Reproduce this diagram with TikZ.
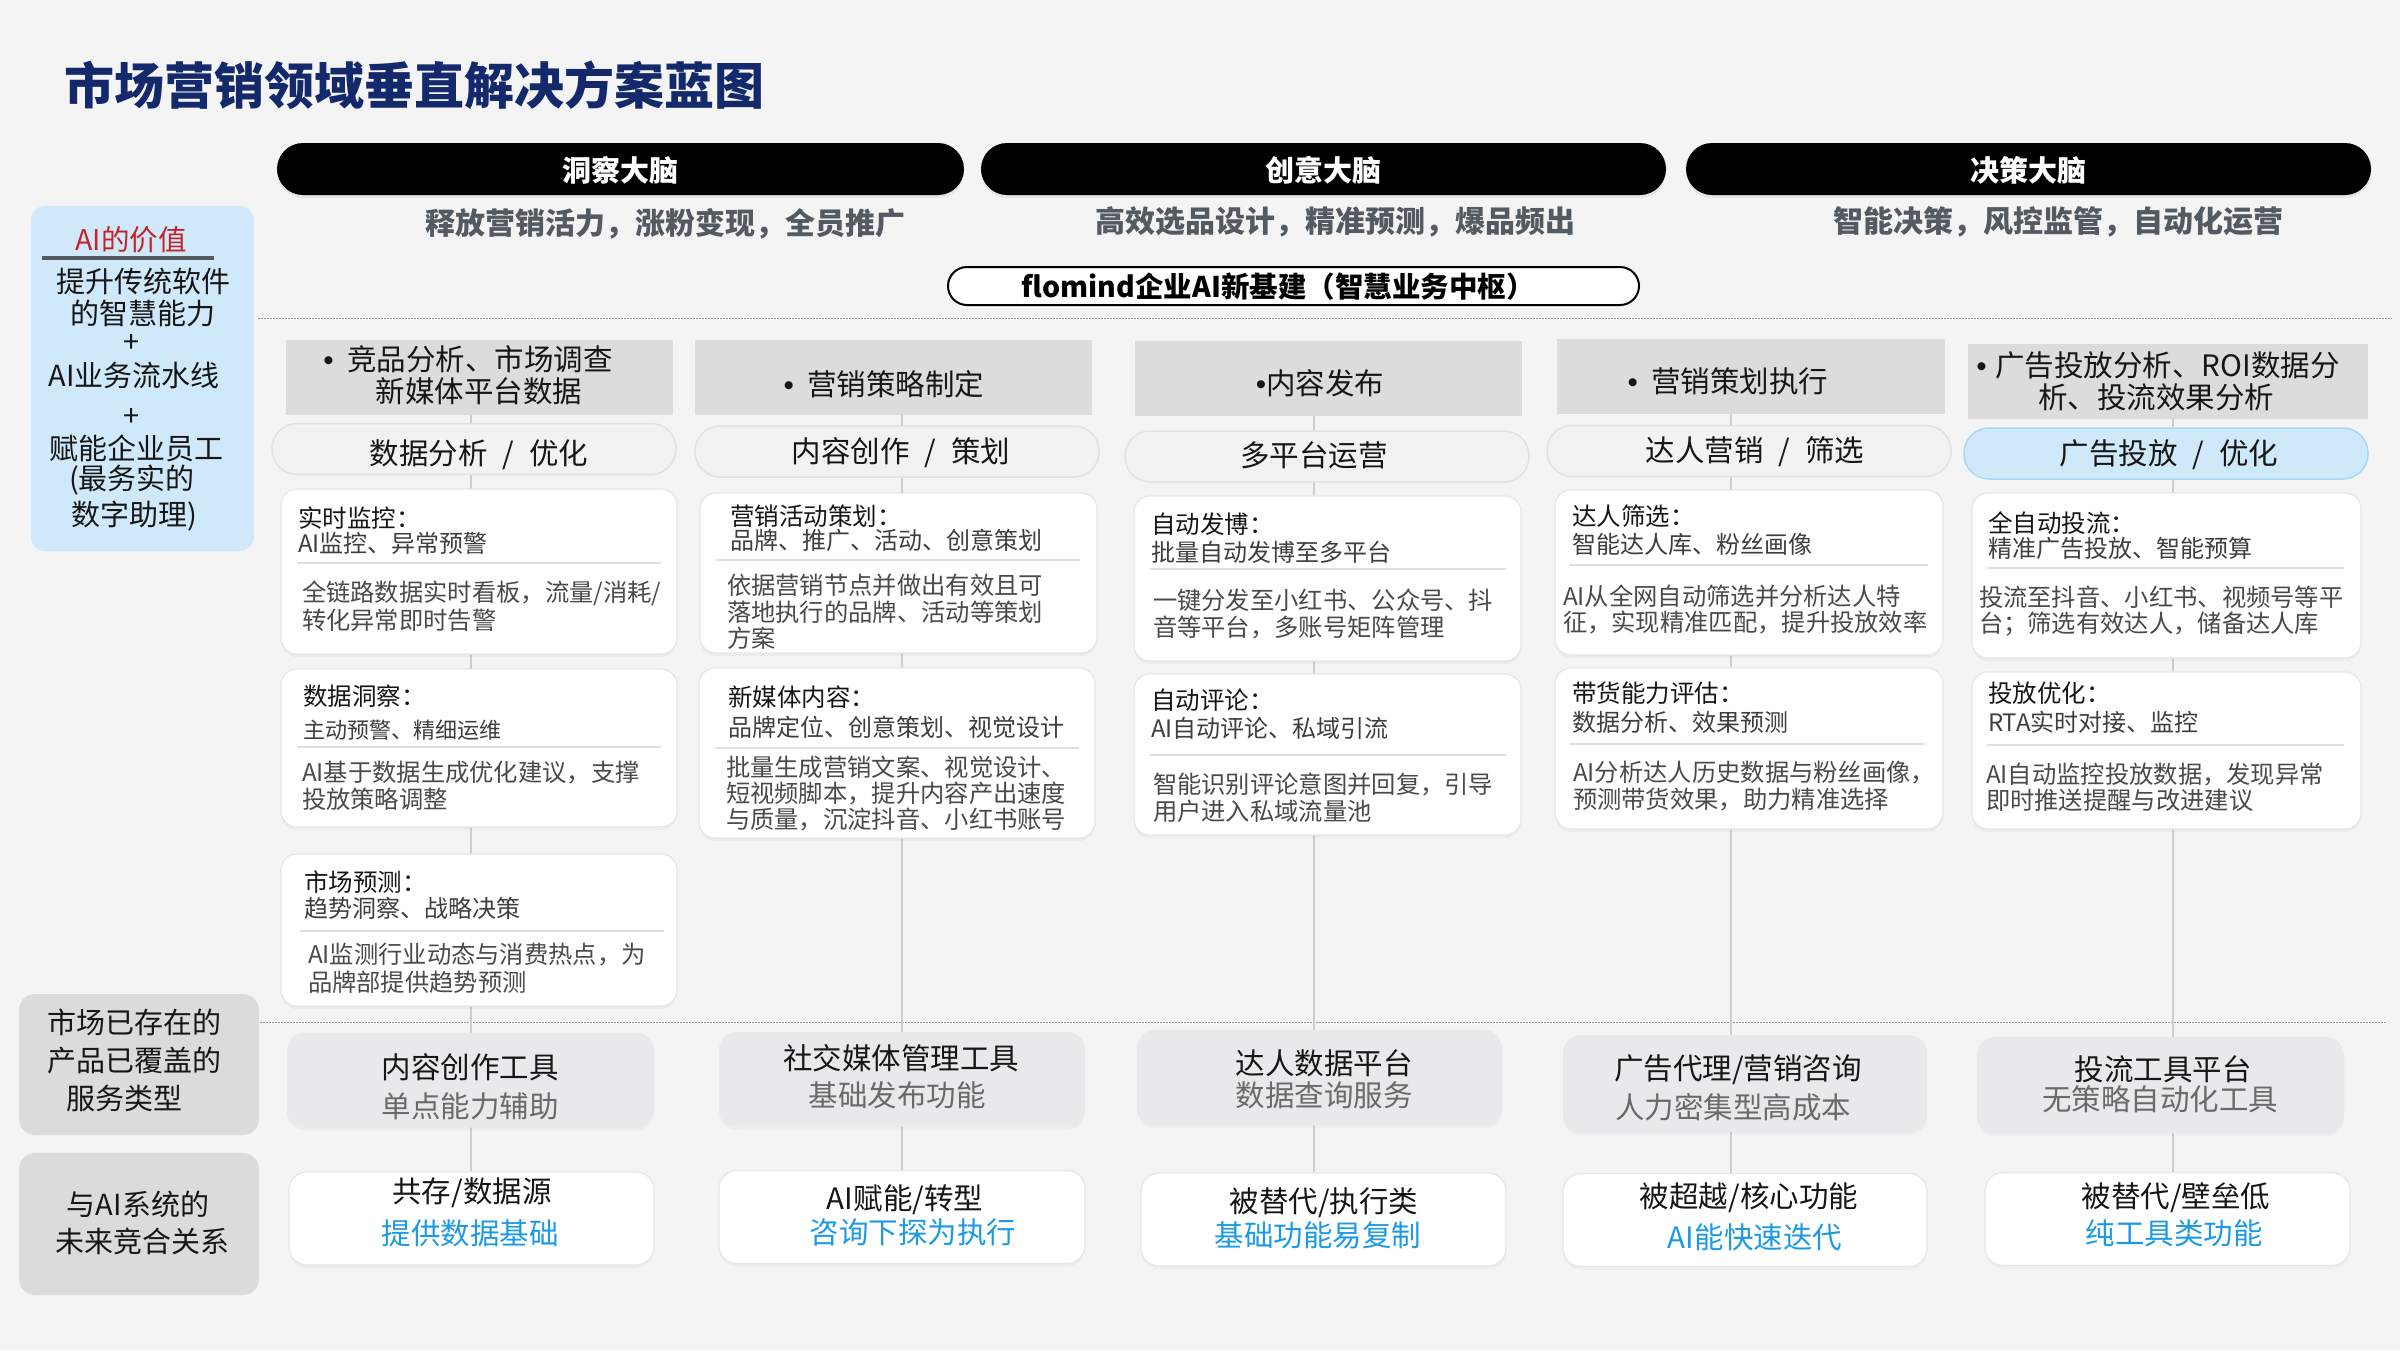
\documentclass[tikz,border=0pt]{standalone}
\usepackage{fontspec}
\setmainfont{Noto Sans CJK SC}
\newfontfamily\bulfont{Liberation Sans}
\usetikzlibrary{shadows}
\definecolor{bgc}{HTML}{F4F4F5}
\definecolor{navy}{HTML}{13296C}
\definecolor{subg}{HTML}{545A62}
\definecolor{hdrg}{HTML}{DCDCDC}
\definecolor{pillg}{HTML}{F2F2F3}
\definecolor{pillbd}{HTML}{E2E2E4}
\definecolor{lblue}{HTML}{CFE9FB}
\definecolor{lbluebd}{HTML}{A9D8F5}
\definecolor{aired}{HTML}{C4232B}
\definecolor{cardbd}{HTML}{E7E7E9}
\definecolor{sepg}{HTML}{E0E0E2}
\definecolor{colg}{HTML}{CDCDCF}
\definecolor{dotg}{HTML}{9A9A9A}
\definecolor{mktg}{HTML}{E9E9EB}
\definecolor{leftg}{HTML}{DBDBDB}
\definecolor{tblue}{HTML}{1C9AE6}
\definecolor{ttl}{HTML}{161616}
\definecolor{tsub}{HTML}{3E3E3E}
\definecolor{tdesc}{HTML}{4A4A4A}
\definecolor{tgray}{HTML}{6A6A6A}
\newcommand\myfs[1]{\fontsize{#1}{#1}\selectfont}
\newcommand\mybul{{\bulfont •}}
\pgfdeclarelayer{back}
\pgfdeclarelayer{lines}
\pgfsetlayers{back,lines,main}
\begin{document}
\begin{tikzpicture}[x=1pt,y=-1pt,
  txt/.style={inner sep=0pt,outer sep=0pt},
  tw/.style={txt,anchor=west},
  blackpill/.style={fill=black,rounded corners=26,minimum height=52,inner sep=0pt,
     drop shadow={shadow xshift=0pt,shadow yshift=-3pt,opacity=0.12}},
  pilltext/.style={txt,text=white,font=\myfs{29}\bfseries},
  subtext/.style={txt,text=subg,font=\myfs{30}\bfseries},
  hdrbox/.style={fill=hdrg,minimum height=75,inner sep=0pt},
  hdrtext/.style={txt,text=ttl,font=\myfs{29.5}},
  catpill/.style={fill=pillg,draw=pillbd,line width=1.5,rounded corners=25,minimum width=404,minimum height=51,inner sep=0pt},
  cattext/.style={txt,text=ttl,font=\myfs{29.5}},
  card/.style={fill=white,draw=cardbd,line width=1.2,rounded corners=16,inner sep=0pt,
     drop shadow={shadow xshift=0pt,shadow yshift=-3pt,opacity=0.07}},
  ctitle/.style={tw,text=ttl,font=\myfs{24.5}},
  csub/.style={tw,text=tsub,font=\myfs{24}},
  cdesc/.style={tw,text=tdesc,font=\myfs{24.3}},
  sepl/.style={draw=sepg,line width=2},
  colline/.style={draw=colg,line width=1.6},
  dotl/.style={draw=dotg,line width=1,dash pattern=on 1.5pt off 1.5pt},
  mktbox/.style={fill=mktg,rounded corners=18,minimum width=366,minimum height=95,inner sep=0pt,
     drop shadow={shadow xshift=0pt,shadow yshift=-3pt,opacity=0.06}},
  relbox/.style={fill=white,draw=cardbd,line width=1.2,rounded corners=18,minimum width=365,minimum height=93,inner sep=0pt,
     drop shadow={shadow xshift=0pt,shadow yshift=-3pt,opacity=0.06}},
  mk1/.style={txt,text=ttl,font=\myfs{29.5}},
  mk2/.style={txt,text=tgray,font=\myfs{29.5}},
  rl2/.style={txt,text=tblue,font=\myfs{29.5}},
  leftbox/.style={fill=leftg,rounded corners=16,minimum width=240,minimum height=141,inner sep=0pt},
  lefttext/.style={txt,text=ttl,font=\myfs{29}},
]
\useasboundingbox (0,0) rectangle (2400,1350);
\begin{pgfonlayer}{back}
\fill[bgc] (0,0) rectangle (2400,1350);
\end{pgfonlayer}

% title
\node[tw,text=navy,font=\myfs{50}\bfseries] (title) at (64,85) {市场营销领域垂直解决方案蓝图};

% brains
\node[blackpill,minimum width=687] (b1) at (620.5,169) {};
\node[blackpill,minimum width=685] (b2) at (1323.5,169) {};
\node[blackpill,minimum width=685] (b3) at (2028.5,169) {};
\node[pilltext] (b1t) at (620,170) {洞察大脑};
\node[pilltext] (b2t) at (1323.5,170) {创意大脑};
\node[pilltext] (b3t) at (2028.5,170) {决策大脑};
\node[subtext] (s1) at (665,224) {释放营销活力，涨粉变现，全员推广};
\node[subtext] (s2) at (1335,222) {高效选品设计，精准预测，爆品频出};
\node[subtext] (s3) at (2058,222) {智能决策，风控监管，自动化运营};

% flomind
\node[fill=white,draw=black,line width=2,rounded corners=19,minimum width=691,minimum height=38,inner sep=0pt] (flo) at (1293.5,286) {};
\node[txt,text=black,font=\myfs{28.5}\bfseries] (flot) at (1278,287) {flomind企业AI新基建（智慧业务中枢）};

% dotted separators
\coordinate (d1a) at (258,318); \coordinate (d1b) at (2392,318);
\coordinate (d2a) at (260,1022); \coordinate (d2b) at (2386,1022);
\begin{pgfonlayer}{lines}
\draw[dotl] (d1a) -- (d1b);
\draw[dotl] (d2a) -- (d2b);
\end{pgfonlayer}

% left column
\node[fill=lblue,rounded corners=14,minimum width=223,minimum height=345,inner sep=0pt] (aibox) at (142.5,378.5) {};
\node[txt,text=aired,font=\myfs{28.5}] (ait) at (131,240) {AI的价值};
\coordinate (ul1) at (42,258); \coordinate (ul2) at (214,258);
\draw[draw=subg,line width=3.5] (ul1) -- (ul2);
\node[lefttext] (a1) at (143,281) {提升传统软件};
\node[lefttext] (a2) at (143,313) {的智慧能力};
\node[lefttext] (a3) at (132,343) {+};
\node[lefttext] (a4) at (134,375) {AI业务流水线};
\node[lefttext] (a5) at (132,417) {+};
\node[lefttext] (a6) at (136,448) {赋能企业员工};
\node[lefttext] (a7) at (132,480) {(最务实的};
\node[lefttext] (a8) at (134,516) {数字助理)};

\node[leftbox] (mkl) at (139,1064.5) {};
\node[lefttext] (mkl1) at (134,1022) {市场已存在的};
\node[lefttext] (mkl2) at (134,1061) {产品已覆盖的};
\node[lefttext] (mkl3) at (124,1098) {服务类型};
\node[leftbox,minimum height=142] (rel) at (139,1224) {};
\node[lefttext] (rel1) at (138,1204) {与AI系统的};
\node[lefttext] (rel2) at (142,1241) {未来竞合关系};

% column headers
\node[hdrbox,minimum width=387] (h1) at (479.5,377.5) {};
\node[hdrbox,minimum width=397] (h2) at (893.5,377.5) {};
\node[hdrbox,minimum width=387] (h3) at (1328.5,378.5) {};
\node[hdrbox,minimum width=388] (h4) at (1751,376.5) {};
\node[hdrbox,minimum width=400] (h5) at (2168,381.5) {};
\node[hdrtext] (h1a) at (468,359) {\mybul\hspace{0.45em}竞品分析、市场调查};
\node[hdrtext] (h1b) at (479,391) {新媒体平台数据};
\node[hdrtext] (h2a) at (884,384) {\mybul\hspace{0.45em}营销策略制定};
\node[hdrtext] (h3a) at (1320,383) {\mybul 内容发布};
\node[hdrtext] (h4a) at (1728,381) {\mybul\hspace{0.45em}营销策划执行};
\node[hdrtext] (h5a) at (2158,365) {\mybul\hspace{0.3em}广告投放分析、ROI数据分};
\node[hdrtext] (h5b) at (2156,397) {析、投流效果分析};

% category pills
\node[catpill] (p1) at (474,449) {};
\node[catpill] (p2) at (897,451.5) {};
\node[catpill] (p3) at (1327,456.5) {};
\node[catpill] (p4) at (1749,451) {};
\node[catpill,fill=lblue,draw=lbluebd] (p5) at (2166,453.5) {};
\node[cattext] (p1t) at (479,455) {数据分析\hspace{0.5em}/\hspace{0.5em}优化};
\node[cattext] (p2t) at (901,453) {内容创作\hspace{0.5em}/\hspace{0.5em}策划};
\node[cattext] (p3t) at (1314,455) {多平台运营};
\node[cattext] (p4t) at (1755,452) {达人营销\hspace{0.5em}/\hspace{0.5em}筛选};
\node[cattext] (p5t) at (2169,455) {广告投放\hspace{0.5em}/\hspace{0.5em}优化};

% ---- column 1 cards
\node[card,minimum width=396,minimum height=165] (c11) at (479,571.5) {};
\node[ctitle] (c11t) at (298,518) {实时监控：};
\node[csub] (c11s) at (298,543) {AI监控、异常预警};
\draw[sepl] (297,563) -- (661,563);
\node[cdesc] (c11d1) at (302,593) {全链路数据实时看板，流量/消耗/};
\node[cdesc] (c11d2) at (302,620) {转化异常即时告警};

\node[card,minimum width=396,minimum height=158] (c12) at (479,748) {};
\node[ctitle] (c12t) at (303,696) {数据洞察：};
\node[csub,font=\myfs{22}] (c12s) at (303,730) {主动预警、精细运维};
\draw[sepl] (297,747) -- (661,747);
\node[cdesc] (c12d1) at (302,773) {AI基于数据生成优化建议，支撑};
\node[cdesc] (c12d2) at (302,799) {投放策略调整};

\node[card,minimum width=396,minimum height=152] (c13) at (479,930) {};
\node[ctitle] (c13t) at (304,882) {市场预测：};
\node[csub] (c13s) at (304,908) {趋势洞察、战略决策};
\draw[sepl] (300,931) -- (664,931);
\node[cdesc] (c13d1) at (308,955) {AI监测行业动态与消费热点，为};
\node[cdesc] (c13d2) at (308,982) {品牌部提供趋势预测};

% ---- column 2 cards
\node[card,minimum width=397,minimum height=160] (c21) at (898.5,573) {};
\node[ctitle] (c21t) at (730,516) {营销活动策划：};
\node[csub] (c21s) at (730,540) {品牌、推广、活动、创意策划};
\draw[sepl] (716,560) -- (1080,560);
\node[cdesc] (c21d1) at (727,585) {依据营销节点并做出有效且可};
\node[cdesc] (c21d2) at (727,612) {落地执行的品牌、活动等策划};
\node[cdesc] (c21d3) at (727,638) {方案};

\node[card,minimum width=396,minimum height=170] (c22) at (897,753) {};
\node[ctitle] (c22t) at (728,697) {新媒体内容：};
\node[csub] (c22s) at (728,727) {品牌定位、创意策划、视觉设计};
\draw[sepl] (715,748) -- (1079,748);
\node[cdesc] (c22d1) at (726,767) {批量生成营销文案、视觉设计、};
\node[cdesc] (c22d2) at (726,793) {短视频脚本，提升内容产出速度};
\node[cdesc] (c22d3) at (726,819) {与质量，沉淀抖音、小红书账号};

% ---- column 3 cards
\node[card,minimum width=387,minimum height=165] (c31) at (1327.5,578.5) {};
\node[ctitle] (c31t) at (1151,524) {自动发博：};
\node[csub] (c31s) at (1151,552) {批量自动发博至多平台};
\draw[sepl] (1150,569) -- (1506,569);
\node[cdesc] (c31d1) at (1153,600) {一键分发至小红书、公众号、抖};
\node[cdesc] (c31d2) at (1153,627) {音等平台，多账号矩阵管理};

\node[card,minimum width=387,minimum height=161] (c32) at (1327.5,754.5) {};
\node[ctitle] (c32t) at (1151,700) {自动评论：};
\node[csub] (c32s) at (1151,728) {AI自动评论、私域引流};
\draw[sepl] (1150,755) -- (1506,755);
\node[cdesc] (c32d1) at (1153,784) {智能识别评论意图并回复，引导};
\node[cdesc] (c32d2) at (1153,811) {用户进入私域流量池};

% ---- column 4 cards
\node[card,minimum width=388,minimum height=165] (c41) at (1749,572.5) {};
\node[ctitle] (c41t) at (1572,516) {达人筛选：};
\node[csub] (c41s) at (1572,544) {智能达人库、粉丝画像};
\draw[sepl] (1569,565) -- (1928,565);
\node[cdesc] (c41d1) at (1563,596) {AI从全网自动筛选并分析达人特};
\node[cdesc] (c41d2) at (1563,622) {征，实现精准匹配，提升投放效率};

\node[card,minimum width=388,minimum height=161] (c42) at (1749,748.5) {};
\node[ctitle] (c42t) at (1572,693) {带货能力评估：};
\node[csub] (c42s) at (1572,722) {数据分析、效果预测};
\draw[sepl] (1569,744) -- (1925,744);
\node[cdesc] (c42d1) at (1573,773) {AI分析达人历史数据与粉丝画像，};
\node[cdesc] (c42d2) at (1573,800) {预测带货效果，助力精准选择};

% ---- column 5 cards
\node[card,minimum width=389,minimum height=165] (c51) at (2166.5,575.5) {};
\node[ctitle] (c51t) at (1988,523) {全自动投流：};
\node[csub] (c51s) at (1988,548) {精准广告投放、智能预算};
\draw[sepl] (1987,568) -- (2344,568);
\node[cdesc] (c51d1) at (1979,597) {投流至抖音、小红书、视频号等平};
\node[cdesc] (c51d2) at (1979,624) {台；筛选有效达人，储备达人库};

\node[card,minimum width=389,minimum height=157] (c52) at (2166.5,750.5) {};
\node[ctitle] (c52t) at (1988,693) {投放优化：};
\node[csub] (c52s) at (1988,722) {RTA实时对接、监控};
\draw[sepl] (1987,745) -- (2344,745);
\node[cdesc] (c52d1) at (1986,775) {AI自动监控投放数据，发现异常};
\node[cdesc] (c52d2) at (1986,800) {即时推送提醒与改进建议};

% ---- market products row
\node[mktbox,minimum width=367] (g1) at (470.5,1080) {};
\node[mktbox] (g2) at (902,1079.5) {};
\node[mktbox,minimum width=365] (g3) at (1319.5,1077.5) {};
\node[mktbox,minimum width=364,minimum height=97] (g4) at (1745,1083.5) {};
\node[mktbox,minimum width=367,minimum height=96] (g5) at (2160.5,1085) {};
\node[mk1] (g1a) at (470,1067) {内容创作工具};
\node[mk2] (g1b) at (470,1106) {单点能力辅助};
\node[mk1] (g2a) at (901,1058) {社交媒体管理工具};
\node[mk2] (g2b) at (897,1095) {基础发布功能};
\node[mk1] (g3a) at (1324,1063) {达人数据平台};
\node[mk2] (g3b) at (1324,1095) {数据查询服务};
\node[mk1] (g4a) at (1738,1070) {广告代理/营销咨询};
\node[mk2] (g4b) at (1733,1107) {人力密集型高成本};
\node[mk1] (g5a) at (2163,1069) {投流工具平台};
\node[mk2] (g5b) at (2160,1099) {无策略自动化工具};

% ---- relation row
\node[relbox] (w1) at (471.5,1218.5) {};
\node[relbox,minimum width=366] (w2) at (902,1217) {};
\node[relbox] (w3) at (1323.5,1219.5) {};
\node[relbox,minimum width=364] (w4) at (1745,1220) {};
\node[relbox] (w5) at (2167.5,1219) {};
\node[mk1] (w1a) at (472,1193) {共存/数据源};
\node[rl2] (w1b) at (470,1233) {提供数据基础};
\node[mk1] (w2a) at (905,1200) {AI赋能/转型};
\node[rl2] (w2b) at (913,1232) {咨询下探为执行};
\node[mk1] (w3a) at (1324,1203) {被替代/执行类};
\node[rl2] (w3b) at (1318,1235) {基础功能易复制};
\node[mk1] (w4a) at (1749,1198) {被超越/核心功能};
\node[rl2] (w4b) at (1755,1237) {AI能快速迭代};
\node[mk1] (w5a) at (2176,1198) {被替代/壁垒低};
\node[rl2] (w5b) at (2174,1233) {纯工具类功能};

% ---- column connector lines (behind)
\coordinate (L1) at (471,0);
\coordinate (L2) at (902,0);
\coordinate (L3) at (1314,0);
\coordinate (L4) at (1731,0);
\coordinate (L5) at (2173,0);
\begin{pgfonlayer}{lines}
\draw[colline] (h1.south -| L1) -- (w1.north -| L1);
\draw[colline] (h2.south -| L2) -- (w2.north -| L2);
\draw[colline] (h3.south -| L3) -- (w3.north -| L3);
\draw[colline] (h4.south -| L4) -- (w4.north -| L4);
\draw[colline] (h5.south -| L5) -- (w5.north -| L5);
\end{pgfonlayer}
\end{tikzpicture}
\end{document}
